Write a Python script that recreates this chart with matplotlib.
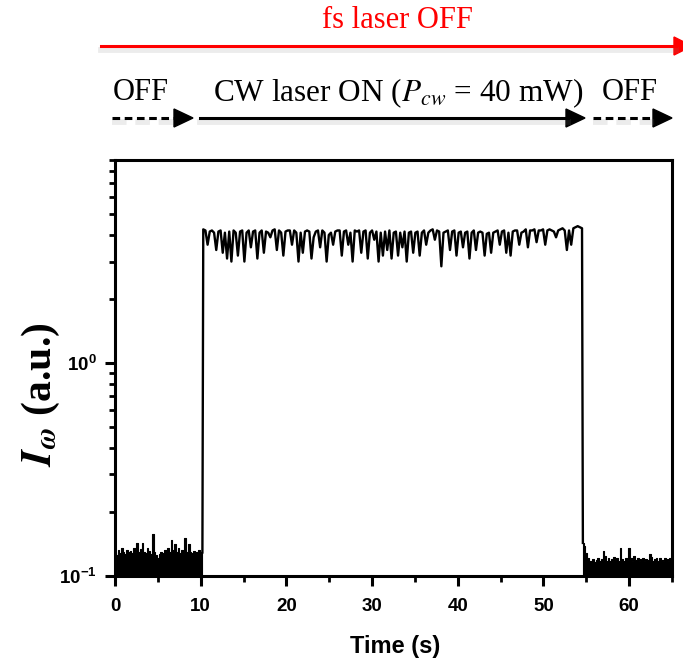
import numpy as np
import matplotlib
matplotlib.use('Agg')
import matplotlib.pyplot as plt
from matplotlib.lines import Line2D
from matplotlib.patches import Polygon
from matplotlib.ticker import FixedLocator, FixedFormatter, LogLocator, NullFormatter, MultipleLocator

plt.rcParams['mathtext.fontset'] = 'custom'
plt.rcParams['mathtext.rm'] = 'Liberation Sans:bold'
plt.rcParams['mathtext.bf'] = 'Liberation Sans:bold'
plt.rcParams['mathtext.it'] = 'Liberation Sans:bold'

# signal before the CW laser is switched on (0 - 10.2 s), upper envelope of the noise
I_off1 = [
    0.13, 0.125, 0.132, 0.128, 0.135, 0.13, 0.127, 0.133, 0.129, 0.131,
    0.128, 0.136, 0.13, 0.143, 0.129, 0.134, 0.143, 0.13, 0.128, 0.136,
    0.131, 0.127, 0.158, 0.129, 0.125, 0.122, 0.127, 0.13, 0.128, 0.133,
    0.131, 0.136, 0.129, 0.148, 0.132, 0.141, 0.13, 0.135, 0.128, 0.132,
    0.127, 0.151, 0.129, 0.142, 0.13, 0.128, 0.131, 0.129, 0.13, 0.132, 0.13, 0.129,
]
# CW laser ON (10.3 - 54.5 s)
I_on = [
    4.25, 4.2, 3.6, 4.15, 4.2, 4.1, 3.4, 4.15,
    4.2, 3.3, 4.1, 3.1, 4.15, 3.0, 4.2, 4.1,
    3.2, 4.15, 4.2, 3.0, 4.1, 4.2, 3.5, 4.15,
    4.2, 3.1, 4.1, 4.2, 3.3, 4.15, 4.1, 3.9,
    4.2, 4.25, 3.4, 4.2, 4.1, 3.2, 4.15, 4.2,
    4.2, 3.6, 4.2, 4.1, 3.0, 4.1, 3.3, 4.15,
    4.2, 4.15, 3.1, 3.9, 4.15, 4.2, 3.5, 4.2,
    4.1, 3.0, 4.0, 4.1, 3.6, 4.15, 4.2, 4.2,
    3.2, 4.15, 4.2, 3.6, 4.1, 3.0, 4.2, 4.15,
    4.2, 3.3, 4.15, 4.2, 3.1, 4.1, 4.2, 3.8,
    4.15, 3.0, 4.1, 3.2, 4.15, 3.4, 4.2, 3.1,
    4.1, 4.15, 3.2, 4.1, 3.5, 4.15, 3.0, 4.1,
    4.15, 3.3, 4.1, 4.15, 3.2, 4.1, 4.2, 3.6,
    4.1, 4.2, 4.25, 3.8, 4.2, 4.15, 2.85, 4.1,
    4.15, 4.2, 3.4, 4.15, 4.2, 3.2, 4.1, 4.15,
    3.5, 4.1, 4.15, 3.1, 4.1, 4.2, 3.4, 4.1,
    4.15, 4.1, 3.2, 4.05, 4.1, 3.3, 4.1, 4.15,
    4.2, 3.6, 4.15, 4.2, 3.3, 4.1, 3.2, 4.15,
    4.2, 4.2, 3.6, 4.1, 4.15, 4.25, 3.5, 4.2,
    4.2, 4.25, 3.7, 4.2, 4.2, 4.25, 3.6, 4.2,
    4.25, 4.2, 4.15, 3.9, 4.2, 4.25, 4.3, 4.2,
    3.4, 4.2, 3.6, 4.3, 4.35, 4.4, 4.35, 4.3,
]
# after the CW laser is switched off (54.6 - 65 s)
I_off2 = [
    0.143, 0.138, 0.128, 0.121, 0.118, 0.117, 0.12, 0.116, 0.119, 0.122,
    0.118, 0.12, 0.131, 0.124, 0.118, 0.121, 0.117, 0.12, 0.123, 0.119,
    0.121, 0.118, 0.136, 0.12, 0.117, 0.122, 0.119, 0.136, 0.121, 0.118,
    0.124, 0.119, 0.122, 0.118, 0.12, 0.121, 0.117, 0.12, 0.119, 0.127,
    0.123, 0.118, 0.12, 0.122, 0.117, 0.121, 0.119, 0.118, 0.121, 0.12,
    0.117, 0.122, 0.12,
]
t_off1 = np.linspace(0, 10.2, len(I_off1))
t_on = np.linspace(10.3, 54.5, len(I_on))
t_off2 = np.linspace(54.6, 65, len(I_off2))

x_ticks = [0, 10, 20, 30, 40, 50, 60]
y_ticks = [0.1, 1]
y_ticklabels = [r'$\mathbf{10^{-1}}$', r'$\mathbf{10^{0}}$']

W, H = 683, 663
fig = plt.figure(figsize=(W / 100, H / 100), dpi=100)
ax = fig.add_axes([115 / W, 1 - 576 / H, 557 / W, 416 / H])

ax.fill_between(t_off1, 0.05, I_off1, step='mid', color='black', lw=0.8)
ax.fill_between(t_off2, 0.05, I_off2, step='mid', color='black', lw=0.8)
t_all = np.concatenate([t_off1[-1:], t_on, t_off2[:1]])
I_all = np.concatenate([I_off1[-1:], I_on, I_off2[:1]])
ax.plot(t_all, I_all, color='black', lw=1.7)

ax.set_yscale('log')
ax.set_xlim(0, 65)
ax.set_ylim(0.1, 9)

ax.xaxis.set_major_locator(FixedLocator(x_ticks))
ax.xaxis.set_minor_locator(MultipleLocator(5))
ax.yaxis.set_major_locator(FixedLocator(y_ticks))
ax.yaxis.set_major_formatter(FixedFormatter(y_ticklabels))
ax.yaxis.set_minor_locator(LogLocator(base=10, subs=np.arange(2, 10)))
ax.yaxis.set_minor_formatter(NullFormatter())

for s in ax.spines.values():
    s.set_linewidth(2.2)
ax.tick_params(which='major', direction='out', length=7, width=2.2, labelsize=13.5, pad=6)
ax.tick_params(axis='x', which='major', pad=9)
ax.tick_params(which='minor', direction='out', length=4, width=2.0)
ax.tick_params(top=False, right=False, which='both')
for lab in ax.get_xticklabels():
    lab.set_fontfamily('Liberation Sans')
    lab.set_fontweight('bold')

ax.set_xlabel('Time (s)', fontsize=17, fontweight='bold', fontfamily='Liberation Sans')
ax.xaxis.set_label_coords(0.503, -0.143)
ylab = ax.set_ylabel(r'$\mathbfit{I}_{\mathbfit{\omega}}$ (a.u.)', fontsize=30,
                     fontweight='bold', fontfamily='Liberation Serif')
ylab.set_math_fontfamily('stix')
ax.yaxis.set_label_coords(-0.095, 0.435)


# annotation arrows above the plot (image pixel coordinates)
def fx(x):
    return x / W


def fy(y):
    return 1 - y / H


def arrow(x0, x1, y, color, ls, head_len=19, head_half=9, lw=2.2):
    fig.add_artist(Line2D([fx(x0), fx(x1 - head_len + 2)], [fy(y + 4), fy(y + 4)],
                          color='gray', alpha=0.15, lw=lw + 2, ls=ls, transform=fig.transFigure))
    fig.add_artist(Line2D([fx(x0), fx(x1 - head_len + 2)], [fy(y), fy(y)],
                          color=color, lw=lw, ls=ls, transform=fig.transFigure))
    fig.add_artist(Polygon([[fx(x1), fy(y)], [fx(x1 - head_len), fy(y - head_half)],
                            [fx(x1 - head_len), fy(y + head_half)]],
                           closed=True, color=color, transform=fig.transFigure))


arrow(101, 692, 46, 'red', '-', head_len=18, head_half=9)
arrow(112, 193, 118, 'black', (0, (2.5, 1.5)))
arrow(200, 585, 118, 'black', '-')
arrow(593, 672, 118, 'black', (0, (2.5, 1.5)))

serif = 'Liberation Serif'
fig.text(fx(397), fy(20), 'fs laser OFF', color='red', fontsize=22, fontfamily=serif,
         ha='center', va='center')
fig.text(fx(141), fy(93), 'OFF', fontsize=22, fontfamily=serif, ha='center', va='center')
t2 = fig.text(fx(398), fy(93), r'CW laser ON ($P_{cw}$ = 40 mW)', fontsize=22.5,
              fontfamily=serif, ha='center', va='center')
t2.set_math_fontfamily('stix')
fig.text(fx(630), fy(93), 'OFF', fontsize=22, fontfamily=serif, ha='center', va='center')

fig.savefig('out.png', dpi=100)
